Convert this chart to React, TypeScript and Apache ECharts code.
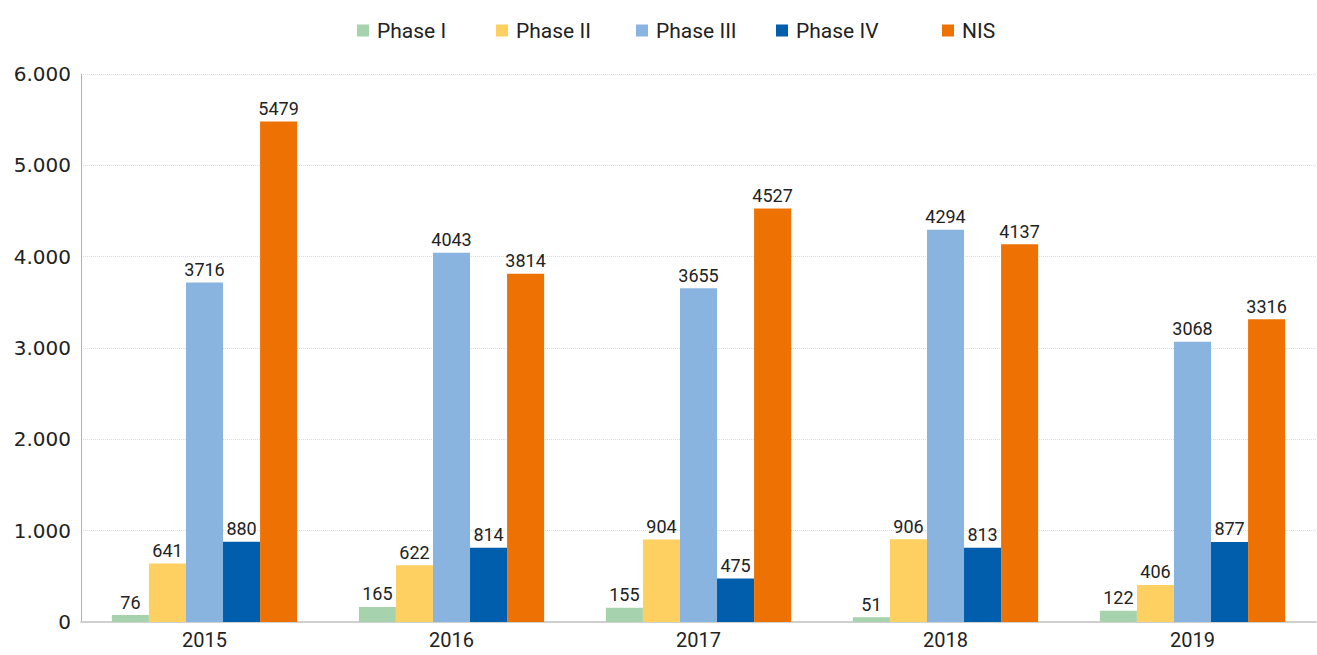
import React, { useEffect, useRef } from "react";
import * as echarts from "echarts";

const years = ["2015", "2016", "2017", "2018", "2019"];
const phase1 = [76, 165, 155, 51, 122];
const phase2 = [641, 622, 904, 906, 406];
const phase3 = [3716, 4043, 3655, 4294, 3068];
const phase4 = [880, 814, 475, 813, 877];
const nis = [5479, 3814, 4527, 4137, 3316];

const seriesNames = ["Phase I", "Phase II", "Phase III", "Phase IV", "NIS"];
const colors = ["#a6d3ad", "#fdd061", "#8ab4e0", "#005eac", "#ee7203"];
const legendLefts = [352, 491, 631, 771, 937];

const NARROW = "'Liberation Sans Narrow', 'Arial Narrow', Roboto, sans-serif";
const WIDE = "'DejaVu Sans', sans-serif";

export default function App() {
  const ref = useRef<HTMLDivElement>(null);
  useEffect(() => {
    if (!ref.current) return;
    const chart = echarts.init(ref.current, undefined, { renderer: "svg" });
    const data = [phase1, phase2, phase3, phase4, nis];
    chart.setOption({
      animation: false,
      textStyle: { fontFamily: NARROW },
      legend: seriesNames.map((name, i) => ({
        data: [name],
        top: 15,
        left: legendLefts[i],
        itemWidth: 12,
        itemHeight: 12,
        icon: "rect",
        textStyle: {
          fontSize: 21,
          color: "#222",
          fontFamily: NARROW,
          padding: [0, 0, 0, 3],
        },
      })),
      grid: { left: 81, right: 1, top: 74, bottom: 33, containLabel: false },
      xAxis: {
        type: "category",
        data: years,
        axisTick: { show: false },
        axisLine: { lineStyle: { color: "#d0d0d0", width: 2 } },
        axisLabel: { fontSize: 20, color: "#222", margin: 8, fontFamily: NARROW },
      },
      yAxis: {
        type: "value",
        min: 0,
        max: 6000,
        interval: 1000,
        axisLine: { show: true, lineStyle: { color: "#b0b0b0", width: 1 } },
        axisTick: { show: false },
        splitLine: { lineStyle: { color: "#dddddd", type: "dotted" } },
        axisLabel: {
          fontSize: 20,
          color: "#222",
          margin: 10,
          fontFamily: WIDE,
          formatter: (v: number) =>
            v.toString().replace(/\B(?=(\d{3})+(?!\d))/g, "."),
        },
      },
      series: seriesNames.map((name, i) => ({
        name,
        type: "bar",
        data: data[i],
        barGap: "0%",
        barCategoryGap: "25%",
        itemStyle: { color: colors[i] },
        label: {
          show: true,
          position: "top",
          fontSize: 18,
          color: "#222",
          distance: 4,
          fontFamily: NARROW,
        },
      })),
    });
    return () => chart.dispose();
  }, []);
  return (
    <div
      ref={ref}
      style={{ position: "absolute", left: 0, top: 0, width: 1317, height: 655 }}
    />
  );
}
